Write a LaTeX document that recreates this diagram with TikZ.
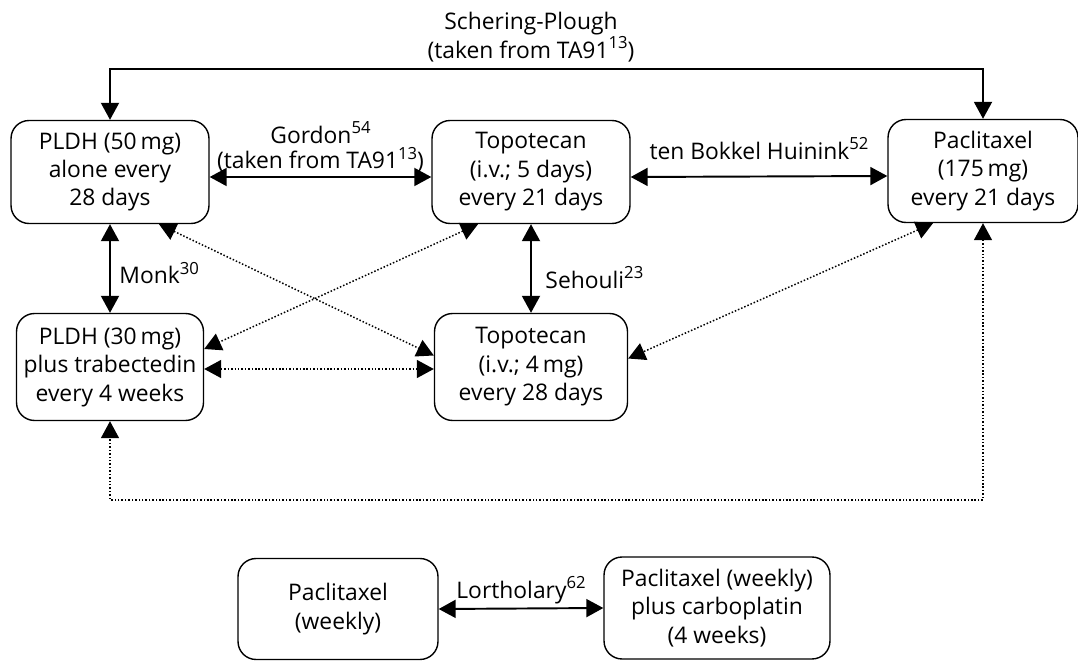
\documentclass[tikz,border=0pt]{standalone}
\usepackage{fontspec}
\setmainfont{Open Sans}
\usetikzlibrary{arrows.meta,positioning}

\newcommand{\refno}[1]{\raisebox{0.42em}{\fontsize{9.5}{10}\selectfont #1}}

\tikzset{
  drug/.style={draw, rounded corners=0.36cm, line width=0.8pt, align=center,
    font=\fontsize{13}{16.2}\selectfont, inner sep=0pt, minimum height=2.06cm},
  link/.style={{Triangle[length=0.34cm,width=0.36cm]}-{Triangle[length=0.34cm,width=0.36cm]},
    line width=1.1pt},
  dotlink/.style={link, line width=0.85pt, dash pattern=on 0.85pt off 1.1pt},
  lbl/.style={font=\fontsize{13}{14.5}\selectfont, align=center, inner sep=2pt}
}

\begin{document}
\begin{tikzpicture}[x=0.02cm, y=-0.02cm]
\useasboundingbox (0,0) rectangle (1078,662);

% nodes
\node[drug, minimum width=3.96cm] (pldhA) at (110,172) {PLDH (50\,mg)\\alone every\\28 days};
\node[drug, minimum width=3.96cm] (topoA) at (531,172) {Topotecan\\(i.v.; 5 days)\\every 21 days};
\node[drug, minimum width=3.8cm] (paclA) at (983,171) {Paclitaxel\\(175\,mg)\\every 21 days};
\node[drug, minimum width=3.74cm, minimum height=2.14cm] (pldhB) at (110,367) {PLDH (30\,mg)\\plus trabectedin\\every 4 weeks};
\node[drug, minimum width=3.86cm, minimum height=2.14cm] (topoB) at (531,367) {Topotecan\\(i.v.; 4\,mg)\\every 28 days};
\node[drug, minimum width=4cm, minimum height=2.02cm] (paclW) at (338,609) {Paclitaxel\\(weekly)};
\node[drug, minimum width=4.52cm, minimum height=2.04cm] (paclC) at (717,608) {Paclitaxel (weekly)\\plus carboplatin\\(4 weeks)};

\coordinate (topY) at (540,69);
\coordinate (loopY) at (540,500);

% solid links
\draw[link] (pldhA.north) |- (topY) -| (paclA.north);
\node[lbl] (schering) at (531,37) {Schering-Plough\\(taken from TA91\refno{13})};

\draw[link] ([yshift=-0.1cm]pldhA.east) -- node[lbl, above] (gordon) {Gordon\refno{54}\\(taken from TA91\refno{13})} ([yshift=-0.1cm]topoA.west);
\draw[link] ([yshift=-0.1cm]topoA.east) -- node[lbl, above=0.25cm] (bokkel) {ten Bokkel Huinink\refno{52}} ([yshift=-0.1cm]paclA.west);
\draw[link] (pldhA.south) -- node[lbl, right=0.1cm, pos=0.55] (monk) {Monk\refno{30}} (pldhB.north);
\draw[link] (topoA.south) -- node[lbl, right=0.2cm, pos=0.6] (sehouli) {Sehouli\refno{23}} (topoB.north);
\draw[link] (paclW.east) -- node[lbl, above] (lortholary) {Lortholary\refno{62}} (paclC.west);

% dotted links
\draw[dotlink] ([xshift=0.98cm]pldhA.south) -- ([yshift=0.23cm]topoB.west);
\draw[dotlink] ([xshift=-1.06cm]topoA.south) -- ([yshift=0.36cm]pldhB.east);
\draw[dotlink] ([yshift=-0.04cm]pldhB.east) -- ([yshift=-0.04cm]topoB.west);
\draw[dotlink] ([xshift=-1cm]paclA.south) -- ([yshift=0.17cm]topoB.east);
\draw[dotlink] (paclA.south) |- (loopY) -| (pldhB.south);

\end{tikzpicture}
\end{document}
